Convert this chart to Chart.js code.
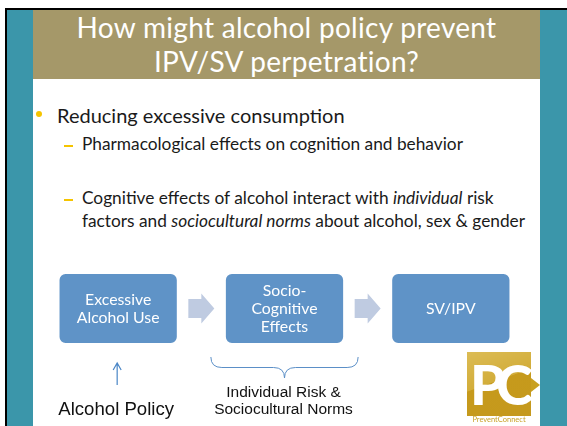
<!DOCTYPE html>
<html>
<head>
<meta charset="utf-8">
<script src="https://cdn.jsdelivr.net/npm/chart.js@4.4.1/dist/chart.umd.min.js"></script>
<style>
  html, body { margin: 0; padding: 0; background: #fff; }
  #slide { position: relative; width: 567px; height: 426px; overflow: hidden; background: #fff; font-family: Lato, "Open Sans", sans-serif; }
  .frame-top { position: absolute; left: 5px; top: 8px; width: 562px; height: 2px; background: #000; }
  .frame-left { position: absolute; left: 5px; top: 8px; width: 2px; height: 418px; background: #000; }
  .teal-l { position: absolute; left: 7px; top: 10px; width: 26px; height: 416px; background: #3b96aa; }
  .teal-r { position: absolute; left: 540px; top: 10px; width: 27px; height: 416px; background: #3b96aa; }
  .title { position: absolute; left: 33px; top: 10px; width: 507px; height: 69px; background: #a59869; }
  .title div { position: absolute; left: 0; width: 100%; text-align: center; color: #fff; font-size: 28px; line-height: 34px; letter-spacing: 0.3px; }
  .txt { position: absolute; white-space: nowrap; color: #1a1a1a; }
  .dot { position: absolute; left: 36px; top: 111px; width: 6px; height: 6px; border-radius: 50%; background: #f5c400; }
  .dash { position: absolute; left: 64px; width: 9px; height: 1.6px; background: #f5c400; }
  #chartBox { position: absolute; left: 35px; top: 260px; width: 499px; height: 166px; }
  .logo { position: absolute; left: 467px; top: 352px; width: 64px; height: 64px; background: linear-gradient(160deg, #dcbc55 0%, #d2ad3a 45%, #c69a1c 46%, #c5991d 100%); overflow: visible; }
  .logo .tip { position: absolute; left: 64px; top: 26px; width: 0; height: 0; border-top: 7px solid transparent; border-bottom: 7px solid transparent; border-left: 9px solid #c9a020; }
  .logo .pc { position: absolute; left: 3px; top: 2px; color: #fff; font-family: Lato, sans-serif; font-weight: 900; font-size: 56px; line-height: 60px; letter-spacing: -9px; }
  .logo-name { position: absolute; left: 467px; top: 415px; width: 64px; text-align: center; color: #c9a227; font-family: Lato, sans-serif; font-size: 7.5px; line-height: 9px; }
</style>
</head>
<body>
<div id="slide">
  <div class="frame-top"></div>
  <div class="frame-left"></div>
  <div class="teal-l"></div>
  <div class="teal-r"></div>
  <div class="title">
    <div style="top:0px">How might alcohol policy prevent</div>
    <div style="top:34px">IPV/SV perpetration?</div>
  </div>

  <div class="dot"></div>
  <div class="txt" style="left:57px; top:104px; font-size:20px; line-height:23px;">Reducing excessive consumption</div>
  <div class="dash" style="top:145px;"></div>
  <div class="txt" style="left:82px; top:132px; font-size:17.3px; line-height:23px;">Pharmacological effects on cognition and behavior</div>
  <div class="dash" style="top:199px;"></div>
  <div class="txt" style="left:82px; top:186px; font-size:17.3px; line-height:23px;">Cognitive effects of alcohol interact with <i>individual</i> risk<br>factors and <i>sociocultural norms</i> about alcohol, sex &amp; gender</div>

  <div id="chartBox"><canvas id="flow" width="499" height="166"></canvas></div>

  <div class="logo"><div class="tip"></div><div class="pc">PC</div></div>
  <div class="logo-name">PreventConnect</div>
</div>

<script>
// flow diagram steps
const categories = ['Excessive Alcohol Use', 'Socio-Cognitive Effects', 'SV/IPV'];
const boxLines = [['Excessive', 'Alcohol Use'], ['Socio-', 'Cognitive', 'Effects'], ['SV/IPV']];
const boxRanges = [[50, 91.5], [50, 91.5], [50, 91.5]];
const noteLines = [['Alcohol Policy'], ['Individual Risk &', 'Sociocultural Norms'], []];

const flowPlugin = {
  id: 'flow',
  afterDatasetsDraw(chart) {
    const ctx = chart.ctx;
    const bars = chart.getDatasetMeta(0).data;
    ctx.save();

    // box labels
    ctx.fillStyle = '#fff';
    ctx.font = '15.8px Lato, sans-serif';
    ctx.textAlign = 'center';
    ctx.textBaseline = 'middle';
    bars.forEach((bar, i) => {
      const mid = (bar.y + bar.base) / 2;
      const lines = boxLines[i];
      lines.forEach((t, j) => {
        ctx.fillText(t, bar.x, mid + (j - (lines.length - 1) / 2) * 18);
      });
    });

    // block arrows between boxes
    ctx.fillStyle = '#bfcbe1';
    for (let i = 0; i < bars.length - 1; i++) {
      const a = bars[i], b = bars[i + 1];
      const cx = (a.x + a.width / 2 + b.x - b.width / 2) / 2;
      const cy = (a.y + a.base) / 2;
      const x0 = cx - 13, xh = cx, x1 = cx + 13;
      ctx.beginPath();
      ctx.moveTo(x0, cy - 9.5);
      ctx.lineTo(xh, cy - 9.5);
      ctx.lineTo(xh, cy - 15);
      ctx.lineTo(x1, cy);
      ctx.lineTo(xh, cy + 15);
      ctx.lineTo(xh, cy + 9.5);
      ctx.lineTo(x0, cy + 9.5);
      ctx.closePath();
      ctx.fill();
    }

    // up arrow under first box
    const b0 = bars[0];
    ctx.strokeStyle = '#4a86c6';
    ctx.lineWidth = 1.2;
    ctx.beginPath();
    ctx.moveTo(b0.x - 1, b0.base + 42);
    ctx.lineTo(b0.x - 1, b0.base + 21);
    ctx.moveTo(b0.x - 5, b0.base + 27);
    ctx.lineTo(b0.x - 1, b0.base + 20);
    ctx.lineTo(b0.x + 3, b0.base + 27);
    ctx.stroke();

    // brace under second box
    const b1 = bars[1];
    const l = b1.x - b1.width / 2 - 15, r = b1.x + b1.width / 2 + 15;
    const top = b1.base + 14, h = 21, rad = 11, cx = b1.x;
    ctx.strokeStyle = '#5b8fc7';
    ctx.lineWidth = 1;
    ctx.beginPath();
    ctx.moveTo(l, top);
    ctx.quadraticCurveTo(l, top + h / 2, l + rad, top + h / 2);
    ctx.lineTo(cx - rad, top + h / 2);
    ctx.quadraticCurveTo(cx, top + h / 2, cx, top + h);
    ctx.quadraticCurveTo(cx, top + h / 2, cx + rad, top + h / 2);
    ctx.lineTo(r - rad, top + h / 2);
    ctx.quadraticCurveTo(r, top + h / 2, r, top);
    ctx.stroke();

    // notes below
    ctx.fillStyle = '#111';
    ctx.textBaseline = 'alphabetic';
    ctx.font = '18.6px "Liberation Sans", Arial, sans-serif';
    noteLines[0].forEach((t, j) => ctx.fillText(t, b0.x - 2, b0.base + 72 + j * 17));
    ctx.font = '15.5px "Liberation Sans", Arial, sans-serif';
    noteLines[1].forEach((t, j) => ctx.fillText(t, b1.x - 1, b1.base + 54 + j * 17));

    ctx.restore();
  }
};

new Chart(document.getElementById('flow'), {
  type: 'bar',
  data: {
    labels: categories,
    datasets: [{
      data: boxRanges,
      backgroundColor: '#5f93c7',
      borderRadius: 6,
      borderSkipped: false,
      categoryPercentage: 1,
      barPercentage: 0.705
    }]
  },
  options: {
    responsive: false,
    devicePixelRatio: 1,
    animation: false,
    layout: { padding: 0 },
    plugins: { legend: { display: false }, tooltip: { enabled: false } },
    scales: {
      x: { display: false },
      y: { display: false, min: 0, max: 100 }
    }
  },
  plugins: [flowPlugin]
});
</script>
</body>
</html>
